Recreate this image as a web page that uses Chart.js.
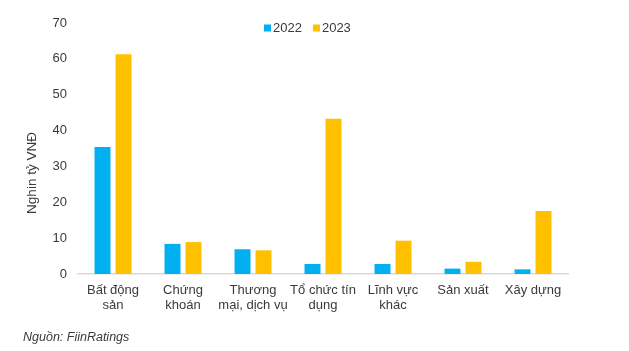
<!DOCTYPE html>
<html>
<head>
<meta charset="utf-8">
<script src="https://cdn.jsdelivr.net/npm/chart.js@4/dist/chart.umd.min.js"></script>
<style>
  html, body { margin: 0; padding: 0; background: #ffffff; }
  #wrap { position: relative; width: 629px; height: 351px; }
</style>
</head>
<body>
<div id="wrap"><canvas id="c" width="629" height="351"></canvas></div>
<script>
const categories = [
  ["Bất động", "sản"],
  ["Chứng", "khoán"],
  ["Thương", "mại, dịch vụ"],
  ["Tổ chức tín", "dụng"],
  ["Lĩnh vực", "khác"],
  "Sản xuất",
  "Xây dựng"
];
const values2022 = [35.4, 8.4, 6.9, 2.8, 2.8, 1.5, 1.3];
const values2023 = [61.3, 8.9, 6.6, 43.3, 9.3, 3.4, 17.6];
const seriesLabels = ["2022", "2023"];
const yTicks = [0, 10, 20, 30, 40, 50, 60, 70];
const yTitle = "Nghin tỷ VNĐ";
const sourceNote = "Nguồn: FiinRatings";

const FONT = "'Liberation Sans', Arial, sans-serif";
const TEXT = "#3a3a3a";

const overlayPlugin = {
  id: 'overlayText',
  afterDraw(chart) {
    const ctx = chart.ctx;
    ctx.save();
    // legend
    ctx.font = "13px " + FONT;
    ctx.textBaseline = 'middle';
    const y = 28;
    let x = 264;
    chart.data.datasets.forEach((ds) => {
      ctx.fillStyle = ds.backgroundColor;
      ctx.fillRect(x, y - 3.5, 7, 7);
      ctx.fillStyle = TEXT;
      ctx.textAlign = 'left';
      ctx.fillText(ds.label, x + 9, y);
      x += 9 + ctx.measureText(ds.label).width + 11;
    });
    // y axis title
    ctx.translate(32, 173);
    ctx.rotate(-Math.PI / 2);
    ctx.font = "13.5px " + FONT;
    ctx.textAlign = 'center';
    ctx.textBaseline = 'middle';
    ctx.fillStyle = TEXT;
    ctx.fillText(yTitle, 0, 0);
    ctx.restore();
  }
};

new Chart(document.getElementById('c'), {
  type: 'bar',
  data: {
    labels: categories,
    datasets: [
      { label: seriesLabels[0], data: values2022, backgroundColor: '#00B0F0',
        categoryPercentage: 0.6, barPercentage: 0.76 },
      { label: seriesLabels[1], data: values2023, backgroundColor: '#FFC000',
        categoryPercentage: 0.6, barPercentage: 0.76 }
    ]
  },
  options: {
    responsive: false,
    animation: false,
    devicePixelRatio: 1,
    layout: { padding: { top: 23, right: 61, left: 23, bottom: 0 } },
    plugins: {
      legend: { display: false },
      tooltip: { enabled: false },
      title: {
        display: true,
        text: sourceNote,
        position: 'bottom',
        align: 'start',
        color: TEXT,
        font: { family: FONT, size: 12.5, style: 'italic', weight: 'normal' },
        padding: { top: 0, bottom: 6 }
      }
    },
    scales: {
      x: {
        grid: { display: false, drawTicks: false },
        border: { display: true, color: '#d9d9d9', width: 1.5 },
        ticks: {
          color: TEXT,
          font: { family: FONT, size: 13, lineHeight: 1.15 },
          padding: 9,
          maxRotation: 0,
          autoSkip: false
        },
        afterFit(scale) { scale.height = 56; }
      },
      y: {
        min: 0, max: 70,
        afterBuildTicks(scale) { scale.ticks = yTicks.map(v => ({ value: v })); },
        grid: { display: false, drawTicks: false },
        border: { display: false },
        ticks: {
          color: TEXT,
          font: { family: FONT, size: 13 },
          padding: 11
        },
        title: { display: false },
        afterFit(scale) { scale.width = 55; }
      }
    }
  },
  plugins: [overlayPlugin]
});
</script>
</body>
</html>
